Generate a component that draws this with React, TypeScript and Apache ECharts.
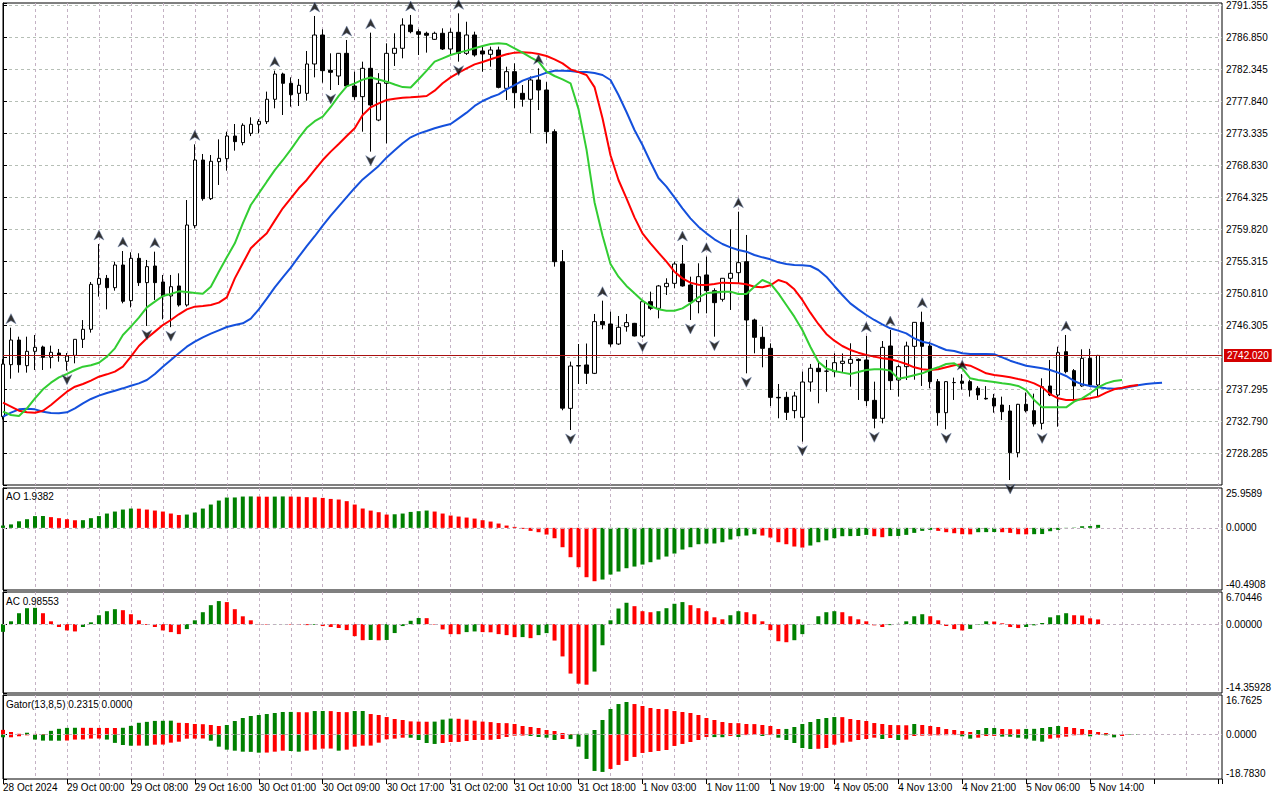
import React, { useEffect, useRef } from 'react';
import * as echarts from 'echarts';

// ---------- data (XAUUSD H1, 28 Oct 16:00 .. 5 Nov 15:00) ----------
const TIME_LABELS = [
  '28 Oct 2024', '29 Oct 00:00', '29 Oct 08:00', '29 Oct 16:00', '30 Oct 01:00', '30 Oct 09:00',
  '30 Oct 17:00', '31 Oct 02:00', '31 Oct 10:00', '31 Oct 18:00', '1 Nov 03:00', '1 Nov 11:00',
  '1 Nov 19:00', '4 Nov 05:00', '4 Nov 13:00', '4 Nov 21:00', '5 Nov 06:00', '5 Nov 14:00',
];

const OPEN = [
  2733.4, 2740.72, 2744.19, 2740.58, 2742.6, 2743.21, 2741.75, 2742.36, 2741.19, 2742.03,
  2744.29, 2745.7, 2752.03, 2752.87, 2751.56, 2754.75, 2749.73, 2755.69, 2752.27, 2754.61,
  2752.36, 2750.39, 2751.8, 2749.12, 2760.29, 2769.53, 2764.09, 2769.3, 2769.72, 2772.91,
  2771.98, 2773.29, 2774.56, 2774.93, 2778.08, 2781.64, 2780.33, 2778.92, 2778.92, 2783.05,
  2787.13, 2782.16, 2781.36, 2784.55, 2779.95, 2778.45, 2782.44, 2775.16, 2780.33, 2784.55,
  2785.26, 2788.54, 2787.6, 2787.37, 2786.52, 2787.37, 2785.16, 2787.51, 2784.55, 2787.13,
  2784.88, 2784.41, 2785.02, 2779.62, 2781.97, 2778.92, 2778.08, 2780.8, 2779.39, 2773.52,
  2755.22, 2734.57, 2740.53, 2740.68, 2739.5, 2746.8, 2746.45, 2743.63, 2746.07, 2746.54,
  2744.76, 2749.59, 2748.65, 2751.7, 2752.17, 2754.89, 2751.94, 2749.59, 2753.35, 2751.14,
  2749.92, 2752.88, 2753.67, 2755.22, 2747.01, 2744.57, 2743.02, 2736.12, 2736.12, 2734.25,
  2733.31, 2738.28, 2740.21, 2739.8, 2739.74, 2740.9, 2740.91, 2741.47, 2741.38, 2735.7,
  2733.17, 2743.35, 2738.56, 2740.44, 2743.3, 2746.68, 2743.35, 2738.33, 2733.96, 2738.2,
  2738.4, 2738.33, 2737.4, 2735.98, 2736.0, 2735.04, 2734.2, 2728.33, 2735.14, 2734.24,
  2732.46, 2737.72, 2736.45, 2742.55, 2739.88, 2737.72, 2741.61, 2737.86,
];
const HIGH = [
  2741.5, 2745.93, 2744.66, 2744.66, 2744.9, 2743.4, 2743.4, 2742.93, 2742.36, 2744.3,
  2747.0, 2752.36, 2757.71, 2753.35, 2755.22, 2756.72, 2756.54, 2756.4, 2755.46, 2756.63,
  2753.35, 2753.35, 2753.58, 2763.9, 2771.74, 2770.38, 2770.24, 2772.44, 2773.52, 2774.6,
  2774.7, 2775.54, 2775.3, 2779.16, 2782.11, 2781.83, 2781.17, 2780.94, 2784.88, 2789.81,
  2787.93, 2784.55, 2784.6, 2786.43, 2781.97, 2783.38, 2787.46, 2781.76, 2785.96, 2787.37,
  2789.48, 2789.95, 2787.93, 2787.6, 2787.6, 2788.07, 2788.07, 2790.18, 2789.0, 2787.6,
  2785.72, 2785.49, 2785.49, 2782.67, 2783.14, 2780.09, 2781.3, 2782.44, 2780.5, 2773.85,
  2756.86, 2741.15, 2743.63, 2743.7, 2747.86, 2749.73, 2748.18, 2747.57, 2747.86, 2746.6,
  2749.7, 2751.0, 2751.94, 2752.88, 2755.22, 2757.57, 2753.11, 2754.99, 2755.93, 2751.47,
  2752.9, 2759.77, 2762.26, 2758.98, 2747.2, 2746.07, 2743.72, 2738.0, 2736.9, 2736.9,
  2739.74, 2740.82, 2741.1, 2741.4, 2742.32, 2742.3, 2743.73, 2741.6, 2744.76, 2738.33,
  2744.05, 2745.6, 2740.7, 2743.96, 2746.7, 2748.18, 2743.96, 2738.7, 2738.4, 2738.9,
  2739.4, 2738.6, 2737.7, 2737.7, 2736.6, 2736.22, 2735.04, 2735.2, 2736.8, 2736.64,
  2738.8, 2741.38, 2743.25, 2744.9, 2740.1, 2742.88, 2742.95, 2742.1,
];
const LOW = [
  2733.0, 2738.75, 2739.6, 2739.6, 2739.97, 2739.97, 2740.2, 2741.14, 2739.88, 2740.91,
  2743.07, 2745.23, 2750.3, 2748.51, 2751.14, 2749.36, 2748.79, 2751.8, 2746.17, 2749.83,
  2747.1, 2746.0, 2748.89, 2748.89, 2759.9, 2763.8, 2763.9, 2766.02, 2768.03, 2770.85,
  2771.6, 2772.9, 2773.29, 2774.6, 2776.81, 2775.87, 2777.04, 2777.14, 2777.89, 2781.17,
  2780.42, 2779.39, 2780.09, 2779.7, 2778.0, 2773.52, 2770.71, 2775.0, 2771.88, 2782.77,
  2783.85, 2787.37, 2784.32, 2784.65, 2786.43, 2785.02, 2784.32, 2783.38, 2784.32, 2784.08,
  2781.97, 2782.67, 2779.62, 2777.98, 2776.81, 2777.04, 2773.29, 2776.57, 2771.88, 2754.52,
  2734.3, 2731.52, 2738.0, 2738.0, 2739.4, 2745.7, 2743.25, 2743.5, 2745.37, 2744.7,
  2744.5, 2748.4, 2747.24, 2750.53, 2751.47, 2751.7, 2747.01, 2747.95, 2747.95, 2744.66,
  2749.6, 2748.42, 2752.17, 2739.5, 2742.32, 2740.35, 2734.9, 2733.17, 2732.93, 2733.17,
  2729.88, 2736.92, 2735.28, 2736.9, 2739.0, 2739.7, 2737.62, 2735.75, 2734.9, 2731.76,
  2732.46, 2737.15, 2736.22, 2738.56, 2738.6, 2737.72, 2737.39, 2732.13, 2731.62, 2735.75,
  2737.2, 2736.22, 2735.75, 2735.8, 2733.96, 2732.93, 2724.48, 2727.67, 2734.0, 2732.0,
  2731.6, 2736.3, 2731.99, 2739.5, 2735.84, 2737.6, 2737.6, 2736.22,
];
const CLOSE = [
  2740.8, 2744.19, 2740.72, 2742.6, 2743.16, 2741.75, 2742.46, 2742.08, 2741.94, 2744.29,
  2745.7, 2752.03, 2752.87, 2751.56, 2754.75, 2749.64, 2755.69, 2752.27, 2754.52, 2752.27,
  2750.39, 2751.7, 2749.12, 2760.38, 2769.53, 2764.09, 2769.35, 2769.77, 2772.91, 2772.12,
  2774.42, 2774.56, 2774.98, 2778.08, 2781.64, 2780.33, 2778.73, 2780.05, 2783.05, 2787.13,
  2782.11, 2781.88, 2784.55, 2779.95, 2778.45, 2782.44, 2777.28, 2780.33, 2784.55, 2785.26,
  2788.54, 2787.6, 2787.23, 2787.09, 2787.37, 2785.16, 2787.51, 2784.55, 2787.13, 2784.32,
  2784.46, 2785.02, 2779.76, 2781.97, 2779.01, 2778.08, 2780.8, 2779.39, 2773.52, 2755.22,
  2734.6, 2740.53, 2740.6, 2739.5, 2746.78, 2746.35, 2743.63, 2745.98, 2746.64, 2744.76,
  2749.59, 2748.65, 2751.8, 2752.17, 2754.89, 2751.8, 2749.59, 2753.11, 2751.14, 2749.45,
  2752.88, 2753.58, 2755.08, 2747.01, 2744.57, 2743.02, 2736.12, 2736.05, 2734.01, 2736.31,
  2738.28, 2740.21, 2739.74, 2739.8, 2741.0, 2741.2, 2741.47, 2741.3, 2735.65, 2733.17,
  2743.16, 2738.47, 2740.44, 2743.35, 2746.68, 2743.3, 2738.33, 2733.96, 2738.33, 2738.2,
  2738.1, 2737.15, 2736.45, 2735.9, 2734.9, 2734.1, 2728.33, 2735.14, 2734.24, 2732.37,
  2737.62, 2736.45, 2742.41, 2739.74, 2737.72, 2741.61, 2737.86, 2742.02,
];

// Alligator lines as drawn (already shifted forward): lips (green), teeth (red), jaw (blue)
const LIPS = [
  2734.1, 2733.63, 2733.49, 2734.57, 2735.98, 2737.25, 2738.19, 2738.94, 2739.41, 2739.97,
  2740.44, 2740.63, 2741.0, 2741.85, 2743.02, 2744.9, 2746.07, 2747.34, 2748.79, 2749.59,
  2750.39, 2750.67, 2751.04, 2750.95, 2750.81, 2750.7, 2751.7, 2753.81, 2755.83, 2757.8,
  2760.6, 2763.2, 2764.84, 2766.48, 2768.1, 2769.5, 2771.0, 2772.6, 2774.06, 2775.0,
  2775.64, 2777.0, 2778.56, 2779.9, 2780.33, 2780.85, 2781.15, 2780.87, 2780.56, 2780.16,
  2779.8, 2779.74, 2780.9, 2782.11, 2783.38, 2783.85, 2784.32, 2784.65, 2784.93, 2785.26,
  2785.58, 2785.86, 2785.96, 2785.86, 2785.26, 2784.65, 2783.99, 2783.38, 2781.97, 2781.36,
  2780.89, 2780.33, 2776.7, 2771.0, 2763.6, 2758.9, 2754.9, 2753.11, 2751.8, 2750.76,
  2749.73, 2748.98, 2748.51, 2748.32, 2748.32, 2748.65, 2749.35, 2750.2, 2750.76, 2750.9,
  2751.0, 2751.0, 2750.67, 2750.67, 2751.7, 2752.64, 2752.17, 2750.76, 2749.12, 2747.48,
  2745.6, 2743.25, 2741.14, 2740.2, 2739.83, 2739.6, 2739.4, 2739.68, 2739.97, 2740.07,
  2740.07, 2739.88, 2738.75, 2738.94, 2739.22, 2739.5, 2739.97, 2740.35, 2740.82, 2740.91,
  2740.21, 2738.8, 2738.56, 2738.42, 2738.28, 2738.09, 2737.95, 2737.72, 2737.15, 2735.75,
  2734.71, 2734.71, 2734.71, 2734.71, 2735.51, 2735.98, 2736.69, 2737.53, 2738.09, 2738.42,
  2738.56,
];
const TEETH = [
  2735.37, 2734.81, 2734.24, 2734.01, 2733.96, 2734.24, 2735.04, 2735.98, 2736.92, 2737.62,
  2738.0, 2738.47, 2739.03, 2739.36, 2739.74, 2740.44, 2741.85, 2743.35, 2744.43, 2745.37,
  2746.3, 2747.01, 2747.81, 2748.51, 2748.89, 2748.98, 2749.12, 2749.45, 2750.2, 2752.87,
  2754.99, 2757.1, 2758.2, 2759.21, 2761.0, 2762.73, 2764.14, 2765.55, 2766.72, 2768.13,
  2769.53, 2770.71, 2771.79, 2772.91, 2774.0, 2775.87, 2776.95, 2777.51, 2777.98, 2778.17,
  2778.31, 2778.36, 2778.45, 2778.54, 2779.29, 2780.33, 2781.17, 2781.83, 2782.44, 2783.0,
  2783.33, 2783.71, 2784.08, 2784.41, 2784.65, 2784.69, 2784.65, 2784.46, 2784.18, 2783.71,
  2783.14, 2782.3, 2781.9, 2781.5, 2779.8, 2775.4, 2770.2, 2766.72, 2764.14, 2761.46,
  2759.21, 2757.8, 2756.49, 2755.22, 2753.81, 2752.87, 2752.27, 2751.98, 2751.94, 2752.08,
  2752.27, 2752.22, 2752.17, 2752.03, 2751.7, 2751.61, 2751.89, 2752.64, 2752.27, 2751.33,
  2749.83, 2748.04, 2746.45, 2745.04, 2744.1, 2743.35, 2742.79, 2742.41, 2742.08, 2741.85,
  2741.61, 2741.47, 2741.19, 2740.82, 2740.35, 2740.07, 2739.97, 2740.07, 2740.35, 2740.63,
  2740.77, 2740.58, 2740.07, 2739.5, 2739.27, 2739.13, 2738.94, 2738.7, 2738.47, 2738.09,
  2737.53, 2736.59, 2735.98, 2735.75, 2735.75, 2735.84, 2735.98, 2736.22, 2736.78, 2737.25,
  2737.48, 2737.72, 2737.86,
];
const JAW = [
  2733.4, 2733.96, 2734.43, 2734.52, 2734.43, 2734.1, 2733.91, 2733.87, 2734.01, 2734.57,
  2735.28, 2735.89, 2736.36, 2736.73, 2737.06, 2737.39, 2737.76, 2738.09, 2738.56, 2739.41,
  2740.44, 2741.38, 2742.32, 2743.25, 2743.96, 2744.57, 2745.08, 2745.55, 2746.02, 2746.3,
  2746.54, 2747.2, 2748.51, 2750.01, 2751.61, 2753.02, 2754.38, 2755.92, 2757.4, 2758.8,
  2760.3, 2761.7, 2763.0, 2764.3, 2765.6, 2766.8, 2767.75, 2768.7, 2769.9, 2770.9,
  2771.9, 2772.73, 2773.25, 2773.62, 2774.0, 2774.32, 2774.6, 2775.4, 2776.2, 2777.14,
  2777.84, 2778.36, 2778.78, 2779.48, 2780.09, 2780.7, 2781.12, 2781.41, 2781.83, 2782.11,
  2782.11, 2782.06, 2781.92, 2781.92, 2781.78, 2781.5, 2780.8, 2778.68, 2776.29, 2773.76,
  2771.64, 2769.25, 2767.0, 2765.78, 2764.28, 2762.73, 2761.32, 2760.15, 2759.21, 2758.37,
  2757.71, 2757.24, 2756.86, 2756.63, 2756.16, 2755.83, 2755.55, 2755.13, 2754.89, 2754.75,
  2754.7, 2754.61, 2754.05, 2753.11, 2751.8, 2750.53, 2749.35, 2748.51, 2747.71, 2747.01,
  2746.4, 2745.84, 2745.51, 2745.13, 2744.43, 2743.96, 2743.72, 2743.25, 2742.79, 2742.65,
  2742.32, 2742.22, 2742.22, 2742.22, 2742.18, 2741.75, 2741.28, 2740.91, 2740.58, 2740.4,
  2740.21, 2739.97, 2739.6, 2739.13, 2738.42, 2737.95, 2737.72, 2737.53, 2737.39, 2737.34,
  2737.39, 2737.62, 2737.81, 2737.99, 2738.09, 2738.18,
];

const FRACTAL_UP = [1, 12, 15, 19, 24, 34, 39, 43, 46, 51, 57, 67, 75, 85, 88, 92, 108, 111, 115, 120, 133];
const FRACTAL_DOWN = [8, 18, 21, 41, 46, 57, 71, 80, 86, 89, 93, 100, 109, 118, 126, 130];

const AO = [
  1.5, 2.24, 4.27, 5.63, 7.66, 7.7, 6.98, 6.3, 5.63, 4.95,
  5.0, 6.3, 7.66, 9.32, 10.62, 11.92, 12.57, 12.49, 11.92, 11.27,
  10.62, 9.32, 8.34, 8.67, 9.97, 12.57, 15.18, 17.78, 19.74, 19.8,
  20.39, 20.47, 20.37, 20.28, 20.37, 20.47, 20.37, 20.28, 19.99, 19.89,
  19.51, 18.84, 18.45, 17.39, 15.18, 12.59, 11.24, 10.19, 8.65, 8.84,
  9.32, 10.38, 10.86, 11.27, 10.62, 9.32, 8.02, 7.36, 6.71, 6.05,
  4.98, 4.1, 2.81, 1.5, 0.63, -0.67, -1.98, -2.84, -4.36, -6.76,
  -12.62, -19.13, -25.65, -32.16, -34.77, -33.68, -30.43, -28.47, -26.3, -25.22,
  -23.91, -22.39, -20.65, -18.7, -16.74, -14.14, -12.62, -10.67, -10.23, -10.19,
  -9.36, -7.62, -5.45, -5.02, -4.15, -5.02, -6.32, -9.36, -10.67, -12.17,
  -12.84, -11.53, -9.36, -8.17, -6.73, -5.45, -5.38, -5.29, -4.58, -5.45,
  -6.1, -5.38, -5.29, -4.58, -3.28, -1.98, -1.33, -1.98, -2.84, -3.5,
  -4.15, -4.23, -2.84, -2.79, -2.74, -2.84, -3.28, -4.15, -4.23, -4.13,
  -4.04, -2.19, -1.33, -0.24, 0.19, 1.06, 1.15, 1.9382,
];
const AC = [
  -1.6, 0.59, 2.28, 3.33, 3.4, 2.28, 0.59, -0.6, -1.31, -1.52,
  -0.6, 0.38, 1.86, 2.7, 3.12, 2.91, 2.07, 0.8, -0.18, -0.6,
  -1.31, -1.66, -2.08, -1.03, 0.8, 2.49, 3.96, 4.81, 4.6, 3.12,
  1.64, 0.8, -0.05, -0.1, -0.05, 0.02, -0.1, -0.15, -0.2, -0.15,
  -0.4, -0.6, -0.8, -1.24, -2.5, -3.35, -3.3, -3.38, -3.3, -1.86,
  -0.4, 0.7, 1.29, 1.25, -0.1, -1.1, -2.08, -2.1, -1.66, -1.52,
  -1.66, -1.7, -2.08, -2.29, -2.71, -2.7, -2.92, -2.29, -1.87, -3.42,
  -6.73, -10.31, -12.42, -12.63, -9.89, -4.4, 0.8, 3.26, 4.46, 3.75,
  2.7, 2.49, 2.7, 3.33, 4.25, 4.6, 3.96, 3.33, 2.7, 1.43,
  1.01, 1.86, 2.7, 2.49, 2.07, 0.59, -1.24, -3.56, -3.77, -3.35,
  -2.08, 0.03, 1.65, 2.49, 2.7, 2.49, 1.65, 1.01, 0.59, -0.25,
  -0.6, -0.2, 0.05, 0.59, 1.65, 2.07, 1.65, 0.8, -0.39, -1.03,
  -1.31, -1.0, -0.1, 0.59, 0.55, 0.17, -0.6, -0.82, -0.6, -0.25,
  0.24, 1.43, 1.86, 2.28, 1.86, 1.8, 1.22, 0.98553,
];
const GATOR_UP = [
  2.0, 1.1, 0.35, 0.8, 0.3, 0.25, 1.6, 2.45, 2.85, 2.9,
  2.88, 2.86, 2.84, 2.82, 2.8, 2.9, 3.7, 5.0, 5.4, 5.8,
  5.85, 5.9, 5.0, 4.9, 4.5, 4.4, 4.06, 3.64, 4.06, 5.75,
  7.02, 7.87, 8.29, 8.71, 9.14, 9.56, 9.6, 9.5, 9.45, 9.98,
  10.0, 9.95, 9.56, 9.5, 9.98, 10.0, 8.71, 8.29, 7.44, 6.6,
  6.18, 5.6, 5.5, 5.45, 5.5, 6.35, 6.77, 6.7, 6.35, 5.9,
  5.5, 5.3, 4.9, 4.85, 4.48, 3.64, 3.21, 2.79, 1.95, 1.52,
  0.68, 0.25, 0.3, 0.4, 1.95, 6.18, 10.83, 12.94, 13.79, 12.94,
  12.1, 11.25, 10.83, 10.8, 9.98, 9.56, 9.14, 8.29, 7.02, 6.18,
  5.33, 4.9, 4.85, 4.48, 4.45, 4.06, 3.64, 2.37, 2.4, 3.21,
  4.48, 5.33, 6.6, 7.02, 7.44, 7.4, 6.6, 6.18, 5.75, 4.9,
  4.48, 4.06, 4.0, 3.95, 4.48, 4.06, 3.64, 3.21, 2.37, 1.95,
  1.52, 1.1, 1.95, 2.79, 2.8, 2.37, 2.3, 2.25, 2.4, 2.45,
  2.79, 3.21, 3.64, 3.21, 2.79, 2.37, 1.95, 1.1, 0.68, 0.25,
  0.1, 0.2, 0.2315,
];
const GATOR_DOWN = [
  -1.13, -1.13, -0.7, -0.3, -2.1, -2.54, -2.56, -2.58, -2.5, -2.1,
  -2.05, -1.69, -1.65, -2.1, -3.5, -4.4, -4.7, -4.65, -4.7, -4.26,
  -4.2, -3.41, -2.99, -1.72, -1.7, -1.65, -2.57, -5.1, -6.37, -6.8,
  -7.22, -7.3, -7.64, -7.6, -7.22, -6.8, -6.94, -7.22, -6.8, -6.37,
  -5.95, -5.9, -6.8, -6.37, -5.1, -4.68, -4.65, -3.41, -2.0, -1.72,
  -1.3, -1.32, -2.28, -3.55, -3.95, -3.55, -3.13, -3.1, -2.71, -2.28,
  -2.25, -2.2, -1.86, -1.0, -0.45, -0.4, -0.6, -1.0, -1.3, -2.28,
  -1.86, -1.9, -5.1, -10.29, -15.37, -15.79, -14.52, -12.83, -11.14, -9.45,
  -7.76, -7.34, -6.92, -6.5, -4.8, -3.95, -3.13, -2.28, -1.0, -1.05,
  -1.1, -0.6, -1.0, -0.2, -0.15, -0.6, -0.2, -1.3, -2.28, -3.55,
  -5.67, -6.09, -6.0, -5.67, -4.26, -3.41, -2.99, -2.28, -1.86, -1.3,
  -1.86, -1.44, -2.28, -2.14, -0.6, -0.45, -0.4, -0.3, -0.25, -0.2,
  -0.73, -1.72, -1.3, -0.6, -0.55, -0.85, -0.9, -1.3, -1.72, -2.57,
  -2.99, -1.72, -1.3, -0.87, -0.3, -0.2, -0.73, -0.15, -0.3, -1.16,
  -0.6,
];

// axis scales
const PRICE_MIN = 2723.78;
const PRICE_STEP = 4.505;
const PRICE_MAX = 2791.636;
const LAST_PRICE = 2742.02;
const AO_RANGE = [-40.4908, 25.9589];
const AC_RANGE = [-14.35928, 6.70446];
const GATOR_RANGE = [-18.783, 16.7625];
const X_MAX = 152.5;

// ---------- styling ----------
const FONT = '"Liberation Sans", Arial, sans-serif';
const GREEN_BAR = '#008000';
const RED_BAR = '#ff0000';
const V_GRID = '#c4b2c4';
const H_GRID = '#b6bfb6';

function histogram(values: number[], absolute: boolean, firstUp: boolean) {
  return values.map((v, i) => {
    let up = firstUp;
    if (i > 0) {
      const a = absolute ? Math.abs(v) : v;
      const b = absolute ? Math.abs(values[i - 1]) : values[i - 1];
      up = a > b;
    }
    return { value: [i, v], itemStyle: { color: up ? GREEN_BAR : RED_BAR } };
  });
}

function edgeLabels(range: number[], digits: number) {
  return (v: number) => {
    if (Math.abs(v - range[1]) < 1e-6) return `{t|${range[1].toFixed(digits)}}`;
    if (Math.abs(v - range[0]) < 1e-6) return `{b|${range[0].toFixed(digits)}}`;
    if (Math.abs(v) < 1e-6) return (0).toFixed(digits);
    return '';
  };
}

const labelRich = {
  t: { padding: [10, 0, 0, 0], fontSize: 10, fontFamily: FONT, color: '#000' },
  b: { padding: [0, 0, 12, 0], fontSize: 10, fontFamily: FONT, color: '#000' },
};

function priceLabel(v: number) {
  const n = (v - PRICE_MIN) / PRICE_STEP;
  const r = Math.round(n);
  if (Math.abs(n - r) > 0.001 || r === 0) return '';
  const p = PRICE_MIN + r * PRICE_STEP;
  if (Math.abs(p - LAST_PRICE) < PRICE_STEP / 3) return '';
  return p.toFixed(3);
}

function zeroLine() {
  return {
    symbol: ['none', 'none'],
    silent: true,
    label: { show: false },
    lineStyle: { color: '#c0b0c0', type: [3, 3], width: 1 },
    data: [{ yAxis: 0 }],
  };
}

function buildOption() {
  const grids = [
    { left: 3, top: 3, width: 1219, height: 482 },
    { left: 3, top: 488, width: 1219, height: 102 },
    { left: 3, top: 592, width: 1219, height: 101 },
    { left: 3, top: 695, width: 1219, height: 84 },
  ].map((g) => ({ ...g, show: true, borderColor: '#000', borderWidth: 1, backgroundColor: '#fff' }));

  const xAxes: any[] = grids.map((_, i) => ({
    type: 'value',
    gridIndex: i,
    min: 0,
    max: X_MAX,
    interval: 4,
    position: 'bottom',
    axisLine: { show: false },
    axisTick: { show: false },
    axisLabel: { show: false },
    splitLine: {
      show: true,
      showMinLine: false,
      showMaxLine: false,
      lineStyle: { color: V_GRID, type: [3, 3], width: 1 },
    },
  }));
  xAxes.push({
    type: 'value',
    gridIndex: 3,
    min: 0,
    max: X_MAX,
    interval: 8,
    position: 'bottom',
    axisLine: { show: false },
    axisTick: { show: true, length: 5, lineStyle: { color: '#000' } },
    splitLine: { show: false },
    axisLabel: {
      show: true,
      align: 'left',
      margin: 3,
      fontSize: 10,
      fontFamily: FONT,
      color: '#000',
      showMinLabel: true,
      showMaxLabel: true,
      formatter: (v: number) => {
        const n = v / 8;
        if (Math.abs(n - Math.round(n)) > 1e-6) return '';
        return TIME_LABELS[Math.round(n)] ?? '';
      },
    },
  });

  const axisCommon = {
    type: 'value',
    position: 'right',
    axisLine: { show: true, lineStyle: { color: '#000' } },
    axisTick: { show: true, length: 4, lineStyle: { color: '#000' } },
  };

  const yAxes: any[] = [
    {
      ...axisCommon,
      gridIndex: 0,
      min: PRICE_MIN,
      max: PRICE_MAX,
      interval: PRICE_STEP,
      axisLabel: { margin: 4, fontSize: 10, fontFamily: FONT, color: '#000', formatter: priceLabel },
      splitLine: {
        show: true,
        showMinLine: false,
        showMaxLine: false,
        lineStyle: { color: H_GRID, type: [3, 3], width: 1 },
      },
    },
    {
      ...axisCommon,
      gridIndex: 1,
      min: AO_RANGE[0],
      max: AO_RANGE[1],
      interval: -AO_RANGE[0],
      splitLine: { show: false },
      axisLabel: {
        margin: 4, fontSize: 10, fontFamily: FONT, color: '#000',
        showMinLabel: true, showMaxLabel: true,
        formatter: edgeLabels(AO_RANGE, 4), rich: labelRich,
      },
    },
    {
      ...axisCommon,
      gridIndex: 2,
      min: AC_RANGE[0],
      max: AC_RANGE[1],
      interval: -AC_RANGE[0],
      splitLine: { show: false },
      axisLabel: {
        margin: 4, fontSize: 10, fontFamily: FONT, color: '#000',
        showMinLabel: true, showMaxLabel: true,
        formatter: edgeLabels(AC_RANGE, 5), rich: labelRich,
      },
    },
    {
      ...axisCommon,
      gridIndex: 3,
      min: GATOR_RANGE[0],
      max: GATOR_RANGE[1],
      interval: -GATOR_RANGE[0],
      splitLine: { show: false },
      axisLabel: {
        margin: 4, fontSize: 10, fontFamily: FONT, color: '#000',
        showMinLabel: true, showMaxLabel: true,
        formatter: edgeLabels(GATOR_RANGE, 4), rich: labelRich,
      },
    },
  ];

  const line = (name: string, values: number[], color: string, z: number) => ({
    name,
    type: 'line',
    xAxisIndex: 0,
    yAxisIndex: 0,
    data: values.map((v, i) => [i, v]),
    showSymbol: false,
    symbol: 'none',
    smooth: false,
    z,
    lineStyle: { color, width: 2 },
  });

  const series: any[] = [
    {
      name: 'XAUUSD',
      type: 'candlestick',
      xAxisIndex: 0,
      yAxisIndex: 0,
      barWidth: 4,
      z: 2,
      data: OPEN.map((o, i) => [i, o, CLOSE[i], LOW[i], HIGH[i]]),
      itemStyle: {
        color: '#ffffff',
        color0: '#000000',
        borderColor: '#000000',
        borderColor0: '#000000',
        borderWidth: 1,
      },
      markLine: {
        symbol: ['none', 'none'],
        silent: true,
        lineStyle: { color: '#a81010', width: 1, type: 'solid' },
        label: {
          show: true,
          position: 'end',
          distance: 2,
          formatter: LAST_PRICE.toFixed(3),
          color: '#ffffff',
          backgroundColor: '#d40000',
          padding: [2, 3, 1, 3],
          fontSize: 10,
          fontFamily: FONT,
        },
        data: [{ yAxis: LAST_PRICE }],
      },
    },
    line('Jaw', JAW, '#1450dc', 3),
    line('Teeth', TEETH, '#ff0000', 4),
    line('Lips', LIPS, '#32cd32', 5),
    {
      name: 'Fractal up',
      type: 'scatter',
      xAxisIndex: 0,
      yAxisIndex: 0,
      z: 6,
      symbol: 'path://M5,0L10,10L5,7L0,10Z',
      symbolSize: [10, 10],
      symbolOffset: [0, -9],
      itemStyle: { color: '#000000', borderColor: '#6a7fa8', borderWidth: 0.6 },
      data: FRACTAL_UP.map((i) => [i, HIGH[i]]),
    },
    {
      name: 'Fractal down',
      type: 'scatter',
      xAxisIndex: 0,
      yAxisIndex: 0,
      z: 6,
      symbol: 'path://M0,0L5,3L10,0L5,10Z',
      symbolSize: [10, 10],
      symbolOffset: [0, 9],
      itemStyle: { color: '#000000', borderColor: '#6a7fa8', borderWidth: 0.6 },
      data: FRACTAL_DOWN.map((i) => [i, LOW[i]]),
    },
    {
      name: 'AO',
      type: 'bar',
      xAxisIndex: 1,
      yAxisIndex: 1,
      barWidth: 4,
      data: histogram(AO, false, true),
      markLine: zeroLine(),
    },
    {
      name: 'AC',
      type: 'bar',
      xAxisIndex: 2,
      yAxisIndex: 2,
      barWidth: 4,
      data: histogram(AC, false, true),
      markLine: zeroLine(),
    },
    {
      name: 'Gator up',
      type: 'bar',
      xAxisIndex: 3,
      yAxisIndex: 3,
      barWidth: 4,
      barGap: '-100%',
      data: histogram(GATOR_UP, true, false),
      markLine: zeroLine(),
    },
    {
      name: 'Gator down',
      type: 'bar',
      xAxisIndex: 3,
      yAxisIndex: 3,
      barWidth: 4,
      barGap: '-100%',
      data: histogram(GATOR_DOWN, true, true),
    },
  ];

  const titleStyle = (text: string) => ({ text, fill: '#000', fontSize: 10, fontFamily: FONT });

  return {
    animation: false,
    backgroundColor: '#ffffff',
    grid: grids,
    xAxis: xAxes,
    yAxis: yAxes,
    series,
    graphic: [
      { type: 'text', left: 6, top: 491, z: 100, style: titleStyle(`AO ${AO[AO.length - 1].toFixed(4)}`) },
      { type: 'text', left: 6, top: 596, z: 100, style: titleStyle(`AC ${AC[AC.length - 1].toFixed(5)}`) },
      {
        type: 'text', left: 6, top: 699, z: 100,
        style: titleStyle(`Gator(13,8,5) ${GATOR_UP[GATOR_UP.length - 1].toFixed(4)} ${(0).toFixed(4)}`),
      },
    ],
  };
}

export default function App() {
  const ref = useRef<HTMLDivElement>(null);
  useEffect(() => {
    document.body.style.margin = '0';
    const chart = echarts.init(ref.current as HTMLDivElement, null, { renderer: 'svg' });
    chart.setOption(buildOption() as any);
    return () => chart.dispose();
  }, []);
  return <div ref={ref} style={{ width: 1280, height: 800, background: '#fff' }} />;
}
